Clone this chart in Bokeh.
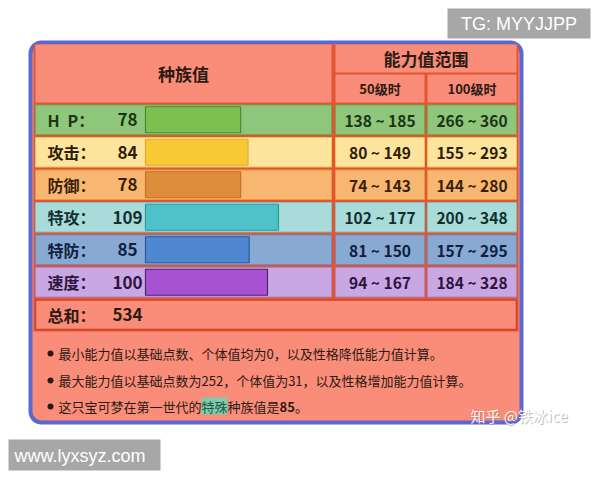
from bokeh.plotting import figure
from bokeh.models import Range1d, BoxAnnotation, ColumnDataSource
from bokeh.core.properties import value
from bokeh.embed import file_html
from bokeh.resources import INLINE

# ---------------- data ----------------
stat_labels = ["H\u2002P：", "攻击：", "防御：", "特攻：", "特防：", "速度："]
base_stats = [78, 84, 78, 109, 85, 100]
lv50_min = [138, 80, 74, 102, 81, 94]
lv50_max = [185, 149, 143, 177, 150, 167]
lv100_min = [266, 155, 144, 200, 157, 184]
lv100_max = [360, 293, 280, 348, 295, 328]
total_label = "总和："
total_value = 534
header_left = "种族值"
header_right = "能力值范围"
sub_headers = ["50级时", "100级时"]
note_lines = [
    "最小能力值以基础点数、个体值均为0，以及性格降低能力值计算。",
    "最大能力值以基础点数为252，个体值为31，以及性格增加能力值计算。",
]
note3_parts = ["这只宝可梦在第一世代的", "特殊", "种族值是", "85", "。"]

# ---------------- style ----------------
CJK = value("Noto Sans CJK SC")
LAT = value("Liberation Sans")
row_fill = ["#8ec67c", "#fde49c", "#f8b771", "#a9dbdb", "#88a9d1", "#c9a7e2"]
row_line = ["#6aa958", "#efc25e", "#e89848", "#7fc0c0", "#6a8cc0", "#a886cc"]
bar_fill = ["#7cc14f", "#f6c935", "#de8b3a", "#4ec2c8", "#4f87d1", "#a753d1"]
bar_line = ["#4a8a2c", "#e3ab2a", "#c57027", "#2e9aa0", "#2a5aa0", "#4a2478"]
text_col = ["#1c3512", "#2e2008", "#3a1f08", "#10302f", "#0f2040", "#2e1440"]
salmon = "#f98d79"
grid_red = "#e4542e"
dark = "#2b1a12"

W, H = 592, 472
def Y(v):  # pixel from top -> data y
    return H - v

p = figure(width=W, height=H, x_range=Range1d(0, W), y_range=Range1d(0, H),
           output_backend="svg", toolbar_location=None, min_border=0,
           x_axis_type=None, y_axis_type=None, outline_line_color=None,
           background_fill_color="white", border_fill_color="white")
p.grid.visible = False

# outer rounded box
p.add_layout(BoxAnnotation(left=30, right=521, top=Y(42), bottom=Y(422),
                           fill_color=salmon, fill_alpha=1, line_color="#5a68d0",
                           line_alpha=1, line_width=4, border_radius=11,
                           level="underlay"))

# table backdrop (grid lines)
tbl_l, tbl_r, tbl_t, tbl_b = 33, 518, 44, 331
p.quad(left=[tbl_l], right=[tbl_r], top=[Y(tbl_t)], bottom=[Y(tbl_b)],
       fill_color=grid_red, line_color=None)

# header cells
col_l = (35, 331)
col_m = (335, 424)
col_r = (427, 516)
p.quad(left=[35, 335, col_m[0], col_r[0]], right=[331, 516, col_m[1], col_r[1]],
       top=[Y(44), Y(44), Y(74), Y(74)], bottom=[Y(102), Y(72), Y(102), Y(102)],
       fill_color=salmon, line_color=None)

p.text(x=[(35 + 331) / 2], y=[Y(73)], text=[header_left], text_font=CJK,
       text_font_size="17px", text_font_style="bold", text_color=dark,
       text_align="center", text_baseline="middle")
p.text(x=[(335 + 516) / 2], y=[Y(58)], text=[header_right], text_font=CJK,
       text_font_size="17px", text_font_style="bold", text_color=dark,
       text_align="center", text_baseline="middle")
p.text(x=[sum(col_m) / 2, sum(col_r) / 2], y=[Y(88), Y(88)], text=sub_headers,
       text_font=CJK, text_font_size="13px", text_font_style="bold",
       text_color=dark, text_align="center", text_baseline="middle")

# rows
row_top0, pitch, row_h = 104.5, 32.5, 29.5
n = len(base_stats)
tops = [row_top0 + pitch * i for i in range(n)]
bots = [t + row_h for t in tops]
mids = [Y(t + row_h / 2) for t in tops]

for (l, r) in (col_l, col_m, col_r):
    p.quad(left=[l] * n, right=[r] * n, top=[Y(t) for t in tops],
           bottom=[Y(b) for b in bots], fill_color=row_fill,
           line_color=row_line, line_width=1)

bar_x0, px_per_unit = 145, 1.22
bars = ColumnDataSource(dict(y=mids, left=[bar_x0] * n,
                             right=[bar_x0 + v * px_per_unit for v in base_stats],
                             fill=bar_fill, line=bar_line))
p.hbar(y="y", left="left", right="right", height=26, source=bars,
       fill_color="fill", line_color="line", line_width=1.2)

p.text(x=[47] * n, y=mids, text=stat_labels, text_font=CJK, text_font_size="16px",
       text_font_style="bold", text_color=text_col, text_baseline="middle")
p.text(x=[127] * n, y=mids, text=[str(v) for v in base_stats], text_font=CJK,
       text_font_size="17px", text_font_style="bold", text_color=text_col,
       text_align="center", text_baseline="middle")
p.text(x=[sum(col_m) / 2] * n, y=mids,
       text=[f"{a} ~ {b}" for a, b in zip(lv50_min, lv50_max)], text_font=CJK,
       text_font_size="15.5px", text_font_style="bold", text_color=text_col,
       text_align="center", text_baseline="middle")
p.text(x=[sum(col_r) / 2] * n, y=mids,
       text=[f"{a} ~ {b}" for a, b in zip(lv100_min, lv100_max)], text_font=CJK,
       text_font_size="15.5px", text_font_style="bold", text_color=text_col,
       text_align="center", text_baseline="middle")

# total row
tt = row_top0 + pitch * n
p.quad(left=[35], right=[516], top=[Y(tt)], bottom=[Y(tt + row_h)],
       fill_color=salmon, line_color="#d2432a", line_width=1.5)
p.text(x=[47], y=[Y(tt + row_h / 2)], text=[total_label], text_font=CJK,
       text_font_size="16px", text_font_style="bold", text_color=dark,
       text_baseline="middle")
p.text(x=[127], y=[Y(tt + row_h / 2)], text=[str(total_value)], text_font=CJK,
       text_font_size="17px", text_font_style="bold", text_color=dark,
       text_align="center", text_baseline="middle")

# notes
fs = 13
note_y = [Y(353), Y(380), Y(406)]
p.scatter(x=[50] * 3, y=note_y, size=6, marker="circle", fill_color=dark,
          line_color=None)
p.text(x=[58, 58], y=note_y[:2], text=note_lines, text_font=CJK,
       text_font_size=f"{fs}px", text_color=dark, text_baseline="middle")

x = 58
widths = [len(note3_parts[0]) * fs, len(note3_parts[1]) * fs,
          len(note3_parts[2]) * fs, len(note3_parts[3]) * fs * 0.6]
xs = [x]
for w in widths:
    xs.append(xs[-1] + w)
p.quad(left=[xs[1]], right=[xs[2]], top=[note_y[2] + 9], bottom=[note_y[2] - 8],
       fill_color="#7fcbb0", line_color=None)
for i, part in enumerate(note3_parts):
    p.text(x=[xs[i]], y=[note_y[2]], text=[part], text_font=CJK,
           text_font_size=f"{fs}px",
           text_font_style="bold" if i == 3 else "normal",
           text_color="#1d5a44" if i == 1 else dark, text_baseline="middle")

# watermarks
p.text(x=[471], y=[Y(416)], text=["知乎 @铁冰ice"], text_font=CJK,
       text_font_size="15px", text_color="#8a7a78", text_alpha=0.5,
       text_baseline="middle")
p.text(x=[470], y=[Y(415)], text=["知乎 @铁冰ice"], text_font=CJK,
       text_font_size="15px", text_color="white", text_alpha=0.92,
       text_baseline="middle")

p.quad(left=[447, 8], right=[590, 160], top=[Y(8), Y(439)], bottom=[Y(38), Y(470)],
       fill_color="#a7a7a7", line_color=None)
p.text(x=[518.5, 14], y=[Y(23), Y(455)], text=["TG: MYYJJPP", "www.lyxsyz.com"],
       text_font=LAT, text_font_size="18px", text_color="white",
       text_align=["center", "left"], text_baseline="middle")

open("out.html", "w").write(file_html(p, INLINE))
